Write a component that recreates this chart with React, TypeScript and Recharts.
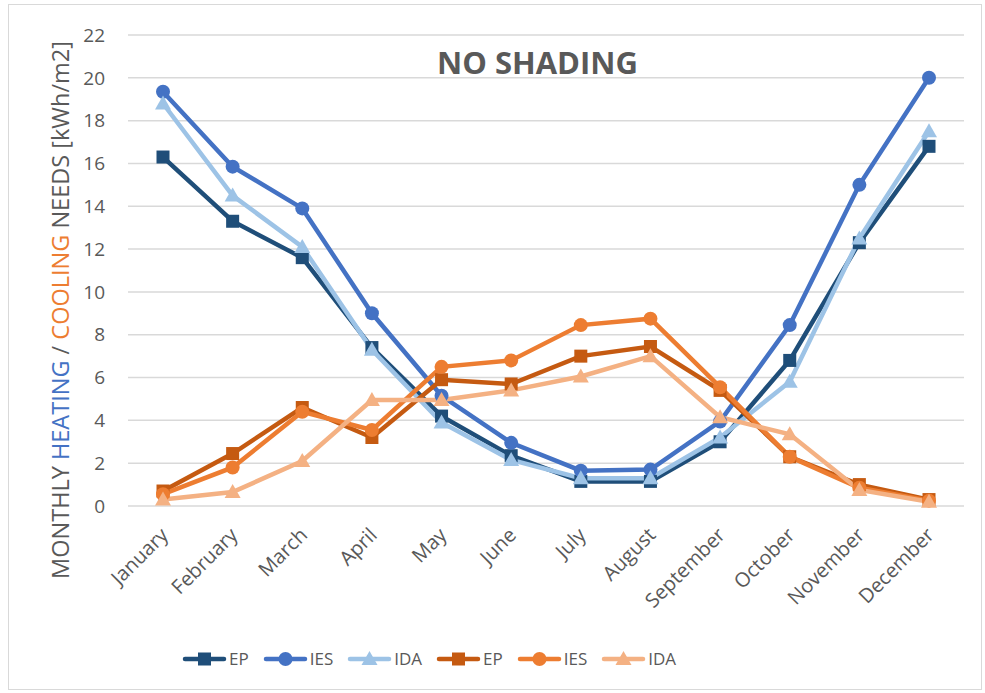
import { LineChart, Line, XAxis, YAxis, CartesianGrid, Label } from "recharts"

const months = [
  "January", "February", "March", "April", "May", "June",
  "July", "August", "September", "October", "November", "December",
]

// heating needs [kWh/m2]
const heatEP = [16.3, 13.3, 11.6, 7.4, 4.2, 2.35, 1.15, 1.15, 3.0, 6.8, 12.3, 16.8]
const heatIES = [19.35, 15.85, 13.9, 9.0, 5.15, 2.95, 1.65, 1.7, 3.95, 8.45, 15.0, 20.0]
const heatIDA = [18.8, 14.5, 12.1, 7.3, 3.9, 2.15, 1.3, 1.3, 3.2, 5.8, 12.5, 17.5]

// cooling needs [kWh/m2]
const coolEP = [0.7, 2.45, 4.6, 3.2, 5.9, 5.7, 7.0, 7.45, 5.4, 2.3, 1.0, 0.3]
const coolIES = [0.55, 1.8, 4.4, 3.55, 6.5, 6.8, 8.45, 8.75, 5.55, 2.3, 0.85, 0.25]
const coolIDA = [0.3, 0.65, 2.1, 4.95, 4.95, 5.4, 6.05, 7.0, 4.15, 3.35, 0.75, 0.2]

const yTicks = [0, 2, 4, 6, 8, 10, 12, 14, 16, 18, 20, 22]

type Shape = "square" | "circle" | "triangle"

const series: { key: string; name: string; color: string; shape: Shape; values: number[] }[] = [
  { key: "hEP", name: "EP", color: "#1F4E79", shape: "square", values: heatEP },
  { key: "hIES", name: "IES", color: "#4472C4", shape: "circle", values: heatIES },
  { key: "hIDA", name: "IDA", color: "#9DC3E6", shape: "triangle", values: heatIDA },
  { key: "cEP", name: "EP", color: "#C55A11", shape: "square", values: coolEP },
  { key: "cIES", name: "IES", color: "#ED7D31", shape: "circle", values: coolIES },
  { key: "cIDA", name: "IDA", color: "#F4B183", shape: "triangle", values: coolIDA },
]

const data = months.map((m, i) => {
  const row: Record<string, string | number> = { month: m }
  series.forEach(s => { row[s.key] = s.values[i] })
  return row
})

const FONT = "'Open Sans', sans-serif"
const GRAY = "#595959"

function marker(shape: Shape, color: string, cx: number, cy: number, key?: string | number) {
  if (shape === "square") {
    return <rect key={key} x={cx - 6.5} y={cy - 6.5} width={13} height={13} fill={color} />
  }
  if (shape === "circle") {
    return <circle key={key} cx={cx} cy={cy} r={7} fill={color} />
  }
  return <polygon key={key} points={`${cx},${cy - 8} ${cx + 8},${cy + 6} ${cx - 8},${cy + 6}`} fill={color} />
}

const makeDot = (shape: Shape, color: string) => (props: any) => {
  const { cx, cy, index } = props
  if (cx == null || cy == null) return <g key={index} />
  return marker(shape, color, cx, cy, index)
}

const MonthTick = (props: any) => {
  const { x, y, payload } = props
  const ax = x + 1
  const ay = y + 17
  return (
    <text
      x={ax}
      y={ay}
      transform={`rotate(-45 ${ax} ${ay})`}
      textAnchor="end"
      dominantBaseline="central"
      fontFamily={FONT}
      fontSize={20}
      fill={GRAY}
    >
      {payload.value}
    </text>
  )
}

const AxisTitle = () => (
  <text
    x={60}
    y={310}
    transform="rotate(-90 60 310)"
    textAnchor="middle"
    dominantBaseline="central"
    fontFamily={FONT}
    fontSize={23.5}
    fill={GRAY}
  >
    <tspan>MONTHLY </tspan>
    <tspan fill="#4472C4">HEATING</tspan>
    <tspan> / </tspan>
    <tspan fill="#ED7D31">COOLING</tspan>
    <tspan> NEEDS [kWh/m2]</tspan>
  </text>
)

export default function App() {
  return (
    <div style={{ position: "absolute", left: 0, top: 0, width: 985, height: 693, background: "#fff", fontFamily: FONT }}>
      <div style={{ position: "absolute", left: 8, top: 4, width: 972, height: 684, border: "1px solid #d9d9d9" }} />
      <LineChart width={985} height={693} data={data} margin={{ top: 35, right: 21, bottom: 127, left: 88 }}>
        <CartesianGrid vertical={false} stroke="#d9d9d9" strokeWidth={1.5} />
        <XAxis
          dataKey="month"
          interval={0}
          padding={{ left: 35, right: 35 }}
          axisLine={false}
          tickLine={false}
          height={60}
          tick={<MonthTick />}
        />
        <YAxis
          width={40}
          domain={[0, 22]}
          ticks={yTicks}
          axisLine={false}
          tickLine={false}
          tickMargin={17}
          tick={{ fontFamily: FONT, fontSize: 19, fill: GRAY }}
        >
          <Label content={<AxisTitle />} />
        </YAxis>
        {series.map(s => (
          <Line
            key={s.key}
            dataKey={s.key}
            name={s.name}
            type="linear"
            stroke={s.color}
            strokeWidth={4.5}
            dot={makeDot(s.shape, s.color)}
            activeDot={false}
            isAnimationActive={false}
          />
        ))}
      </LineChart>
      <div
        style={{
          position: "absolute", left: 437, top: 44, whiteSpace: "nowrap",
          fontSize: 31, fontWeight: 700, color: GRAY, lineHeight: "36px",
        }}
      >
        NO SHADING
      </div>
      <div
        style={{
          position: "absolute", left: 182, top: 647, display: "flex",
          alignItems: "center", gap: 14, fontSize: 17, color: GRAY,
        }}
      >
        {series.map(s => (
          <div key={s.key} style={{ display: "flex", alignItems: "center", gap: 2 }}>
            <svg width={45} height={20}>
              <line x1={3} y1={10} x2={42} y2={10} stroke={s.color} strokeWidth={4.5} strokeLinecap="round" />
              {marker(s.shape, s.color, 22.5, 10)}
            </svg>
            <span>{s.name}</span>
          </div>
        ))}
      </div>
    </div>
  )
}
